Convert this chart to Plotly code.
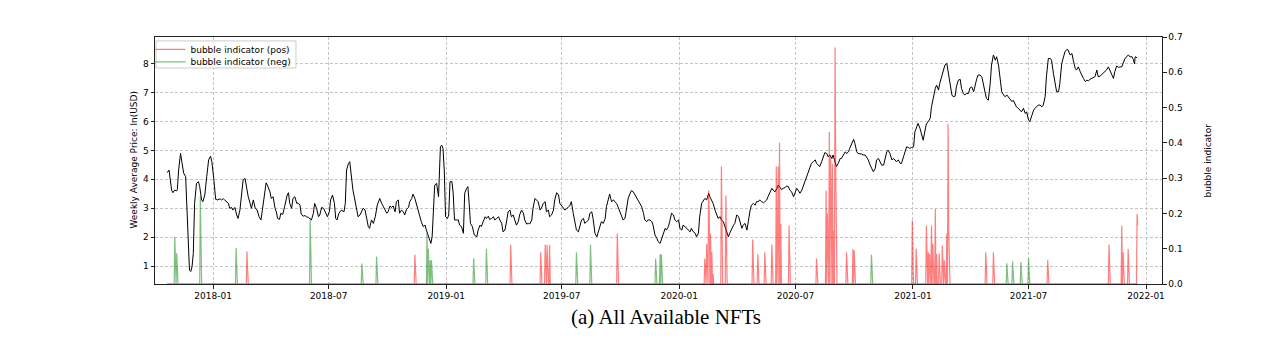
import numpy as np
import pandas as pd
import plotly.graph_objects as go

# ---------------- data (days counted from 2018-01-01) ----------------
REF_DATE = "2018-01-01"

price_days = [
    -72, -69, -68, -65, -63, -60, -57, -56, -54, -51, -49, -46, -43, -41, -39, -37, -35, -33, -31, -29,
    -26, -23, -21, -18, -16, -13, -10, -7, -4, -2, 1, 4, 7, 11, 13, 16, 18, 21, 24, 26,
    29, 31, 34, 37, 39, 42, 44, 47, 50, 52, 55, 58, 60, 63, 66, 69, 72, 75, 77, 80,
    83, 85, 89, 91, 94, 97, 99, 101, 104, 106, 109, 112, 116, 118, 120, 123, 125, 128, 131, 133,
    136, 138, 141, 144, 146, 149, 152, 154, 157, 159, 162, 165,
    167, 170, 173, 177, 179, 182, 184, 187, 190, 192, 194, 197, 201, 205, 207, 209, 212, 214, 217, 219,
    222, 225, 227, 230, 233, 235, 238, 240, 243, 245, 248, 251, 254, 257, 261, 264, 266, 269, 272, 274,
    277, 279, 282, 285, 287, 290, 292, 295, 298, 300, 303, 306, 308, 311, 313, 316, 319, 321, 324, 326,
    329, 332, 334, 337, 339, 341, 343, 345, 347, 350, 353, 354, 356, 358, 360, 362, 364, 367, 369, 371,
    374, 376, 378, 381, 384, 386, 389, 392, 394, 397, 399, 401, 403, 406, 409, 413, 415, 418, 420, 423,
    426, 428, 431, 433, 436, 439, 441, 444, 447, 449, 452, 454, 457, 460, 462, 465, 467, 470, 473, 475,
    478, 480, 483, 486, 488, 491, 494, 496, 499, 501, 504, 507, 509, 512, 514, 517, 520, 522, 525, 527,
    530, 533, 535, 538, 541, 543, 546, 548, 551, 554, 556, 559, 561, 564, 567, 569, 572, 574, 577, 580,
    582, 585, 588, 590, 593, 595, 598, 601, 603, 606, 608, 611, 614, 616, 619, 621, 624, 627, 629, 632,
    634, 637, 640, 642, 645, 648, 650, 653, 655, 658, 661, 663, 666, 668, 671, 674, 676, 679, 681,
    684, 687, 689, 692, 695, 697, 700, 702, 705, 708, 710, 713, 715, 718, 721, 723, 726, 729, 731, 734,
    736, 739, 742, 744, 747, 749, 752, 755, 757, 760, 762, 765, 768, 770, 773, 776, 778, 781, 783, 786,
    789, 791, 794, 796, 799, 802, 804, 807, 809, 812, 815, 817, 820, 823, 825, 828, 830, 833, 836, 838,
    841, 843, 846, 849, 851, 854, 856, 859, 862, 864, 867, 869, 872, 875, 877, 880, 883, 885, 888, 890,
    893, 896, 898, 901, 903, 906, 909, 911, 914, 916, 919, 922, 924, 927, 930, 932, 935, 937, 940,
    943, 945, 948, 950, 953, 956, 958, 961, 963, 966, 969, 971, 974, 976, 979, 982, 984, 987, 990, 992,
    995, 997, 1000, 1003, 1005, 1008, 1010, 1013, 1016, 1018, 1021, 1023, 1026, 1029, 1031, 1034, 1037, 1039, 1042, 1044,
    1047, 1050, 1052, 1055, 1057, 1060, 1063, 1065, 1068, 1070, 1073, 1076, 1078, 1081, 1084, 1086, 1089, 1091, 1094, 1097,
    1099, 1102, 1104, 1107, 1110, 1112, 1115, 1117, 1120, 1123, 1125, 1128, 1131, 1133, 1136, 1138, 1141, 1144, 1146, 1149,
    1151, 1154, 1157, 1159, 1162, 1164, 1167, 1170, 1172, 1175, 1177, 1180, 1183, 1185, 1188, 1191, 1193, 1196, 1198,
    1201, 1204, 1206, 1209, 1211, 1214, 1217, 1219, 1222, 1225, 1227, 1230, 1232, 1235, 1238, 1240, 1243, 1245, 1248, 1251,
    1253, 1256, 1258, 1261, 1264, 1266, 1269, 1272, 1274, 1277, 1279, 1282, 1285, 1287, 1290, 1292, 1295, 1298, 1300, 1303,
    1305, 1308, 1311, 1313, 1316, 1319, 1321, 1324, 1326, 1329, 1332, 1334, 1337, 1339, 1342, 1345, 1347, 1350, 1352, 1355,
    1358, 1360, 1363, 1366, 1368, 1371, 1373, 1376, 1379, 1381, 1384, 1386, 1389, 1392, 1394, 1397, 1399, 1402, 1405, 1407,
    1410, 1412, 1415, 1418, 1420, 1423, 1426, 1428, 1431, 1433, 1436, 1439, 1441, 1443, 1444, 1447,
]

price_vals = [
    4.23, 4.32, 4.15, 3.63, 3.54, 3.63, 3.60, 3.65, 4.32, 4.90, 4.61, 4.21, 4.09, 2.83, 1.79, 0.87, 0.82, 0.99, 1.45, 3.17,
    3.86, 3.92, 3.75, 3.29, 3.23, 3.46, 4.09, 4.67, 4.80, 4.61, 4.03, 3.31, 3.29, 3.33, 3.29, 3.33, 3.29, 3.23, 3.17, 3.00,
    3.03, 2.94, 3.03, 2.77, 2.65, 2.94, 3.40, 3.98, 4.03, 3.75, 3.40, 3.17, 3.00, 3.29, 3.00, 2.94, 2.71, 2.60, 2.94, 3.46,
    3.88, 3.80, 3.57, 3.34, 3.40, 3.00, 2.88, 2.65, 2.62, 2.83, 2.79, 3.06, 3.46, 3.54, 3.17, 3.00, 3.34, 3.40, 3.17, 3.19,
    3.11, 2.80, 2.73, 2.75, 2.71, 2.69, 2.65, 2.60, 2.83, 3.17, 3.00, 2.71,
    2.77, 3.03, 3.00, 2.77, 2.71, 2.88, 3.29, 3.46, 3.17, 2.65, 2.60, 2.83, 2.94, 2.88, 3.17, 4.32, 4.55, 4.61, 3.86, 3.63,
    3.29, 2.94, 2.71, 2.77, 2.88, 3.00, 2.94, 2.65, 2.37, 2.31, 2.60, 2.48, 2.71, 3.11, 3.34, 3.17, 3.08, 2.94, 2.83, 2.88,
    3.08, 3.03, 3.08, 2.88, 3.23, 3.29, 2.83, 2.94, 2.88, 2.77, 2.97, 3.03, 3.23, 3.34, 3.49, 3.34, 3.08, 2.88, 2.71, 2.54,
    2.37, 2.42, 2.25, 2.08, 1.91, 1.79, 2.02, 3.06, 3.80, 3.86, 3.40, 3.98, 5.13, 5.18, 5.07, 4.32, 2.71, 2.65, 2.77, 3.92,
    3.92, 3.52, 2.60, 2.60, 2.60, 2.42, 2.37, 2.14, 3.52, 3.69, 3.75, 3.17, 2.48, 2.37, 2.08, 2.02, 2.25, 2.42, 2.37, 2.54,
    2.71, 2.65, 2.73, 2.62, 2.65, 2.71, 2.60, 2.65, 2.71, 2.60, 2.48, 2.19, 2.25, 2.60, 2.88, 2.94, 2.71, 2.77, 2.60, 2.42,
    2.54, 2.77, 2.94, 2.83, 2.60, 2.46, 2.48, 2.46, 2.60, 3.00, 3.34, 3.29, 3.23, 2.94, 3.00, 3.17, 3.23, 2.88, 2.94, 2.71,
    2.77, 2.94, 3.29, 3.54, 3.46, 3.17, 3.08, 3.03, 2.94, 3.00, 3.03, 3.11, 3.23, 2.83, 2.54, 2.25, 2.19, 2.37, 2.60, 2.65,
    2.48, 2.54, 2.60, 2.83, 2.88, 2.65, 2.14, 2.02, 2.19, 2.37, 2.54, 2.48, 2.65, 3.06, 3.29, 3.49, 3.23, 3.29, 3.23, 3.17,
    3.06, 2.88, 2.71, 2.60, 2.65, 3.06, 3.34, 3.52, 3.61, 3.57, 3.46, 3.34, 3.23, 3.17, 3.06, 2.83, 2.60, 2.54, 2.60,
    2.60, 2.54, 2.42, 2.08, 1.96, 1.85, 1.79, 1.91, 2.14, 2.31, 2.25, 2.37, 2.54, 2.83, 2.77, 2.60, 2.54, 2.60, 2.31, 2.25,
    2.42, 2.37, 2.31, 2.25, 2.19, 2.31, 2.19, 2.14, 2.02, 2.14, 2.71, 3.17, 3.29, 3.34, 3.29, 3.52, 3.40, 3.29, 3.17, 2.94,
    2.77, 2.65, 2.71, 2.60, 2.54, 2.37, 2.19, 2.02, 2.14, 2.31, 2.42, 2.48, 2.77, 2.71, 2.54, 2.31, 2.42, 2.48, 2.25, 2.60,
    2.94, 3.11, 3.17, 3.11, 3.23, 3.23, 3.29, 3.23, 3.19, 3.23, 3.29, 3.40, 3.57, 3.69, 3.63, 3.57, 3.69, 3.80, 3.72, 3.65,
    3.69, 3.72, 3.77, 3.75, 3.63, 3.57, 3.40, 3.52, 3.69, 3.63, 3.52, 3.63, 3.75, 3.98, 4.09, 4.26, 4.43, 4.55, 4.61,
    4.67, 4.55, 4.49, 4.44, 4.61, 4.78, 4.92, 4.89, 4.78, 4.84, 4.72, 4.84, 4.55, 4.44, 4.55, 4.72, 4.72, 4.84, 4.95, 4.89,
    4.95, 5.07, 5.24, 5.38, 5.24, 4.95, 4.89, 4.89, 4.87, 4.84, 4.84, 4.78, 4.67, 4.49, 4.38, 4.26, 4.38, 4.67, 4.72, 4.61,
    4.49, 4.49, 4.72, 4.95, 5.01, 4.89, 4.67, 4.72, 4.67, 4.61, 4.67, 4.55, 4.55, 4.78, 4.95, 5.12, 5.10, 5.07, 5.10, 5.12,
    5.64, 5.87, 5.93, 5.76, 5.47, 5.35, 5.70, 5.91, 5.99, 6.10, 6.50, 6.85, 7.14, 7.25, 7.08, 7.31, 7.54, 7.77, 7.94, 8.00,
    7.71, 7.31, 6.91, 6.85, 6.87, 7.19, 7.42, 7.45, 7.14, 6.96, 6.91, 6.96, 6.96, 7.14, 7.19, 7.02, 7.25, 7.48, 7.60,
    7.60, 7.52, 7.31, 6.96, 6.79, 6.73, 7.31, 7.94, 8.29, 8.11, 8.23, 7.94, 7.54, 7.02, 6.91, 6.85, 6.91, 6.85, 6.79, 6.68,
    6.73, 6.62, 6.50, 6.45, 6.39, 6.33, 6.45, 6.27, 6.33, 6.05, 5.99, 6.22, 6.39, 6.45, 6.50, 6.56, 6.56, 6.50, 6.56, 6.85,
    7.54, 8.17, 8.17, 8.11, 7.65, 7.19, 7.02, 7.02, 7.31, 8.00, 8.29, 8.40, 8.48, 8.46, 8.29, 8.34, 8.11, 7.83, 7.77, 7.88,
    7.71, 7.60, 7.48, 7.37, 7.42, 7.40, 7.45, 7.48, 7.52, 7.54, 7.77, 7.54, 7.56, 7.63, 7.65, 7.71, 7.77, 7.88, 7.71, 7.65,
    7.48, 7.71, 7.91, 7.86, 7.88, 7.88, 8.06, 8.17, 8.23, 8.29, 8.23, 8.23, 8.14, 7.98, 8.23, 8.19,
]

pos_days = [53, 316, 466, 513, 520, 523, 527, 633, 770, 773, 776, 777, 779, 781, 783, 796, 803,
            845, 853, 864, 875, 882, 884, 885, 887, 889, 902, 945,
            960, 962, 965, 967, 968, 970, 972, 974, 975, 992, 1002, 1004,
            1095, 1101, 1117, 1120, 1122, 1125, 1127, 1131, 1133, 1137, 1142, 1145, 1149, 1151, 1152,
            1210, 1222, 1307, 1403, 1423, 1425, 1433, 1447, 1448]
pos_vals = [0.092, 0.083, 0.111, 0.090, 0.111, 0.111, 0.111, 0.143, 0.072, 0.114, 0.265, 0.20, 0.143, 0.09, 0.028, 0.333, 0.251,
            0.126, 0.084, 0.09, 0.112, 0.333, 0.12, 0.333, 0.40, 0.17, 0.166, 0.072,
            0.265, 0.20, 0.431, 0.36, 0.25, 0.341, 0.15, 0.67, 0.331, 0.09, 0.099, 0.095,
            0.18, 0.10, 0.166, 0.09, 0.085, 0.166, 0.114, 0.213, 0.085, 0.086, 0.109, 0.067, 0.143, 0.454, 0.15,
            0.09, 0.09, 0.068, 0.112, 0.166, 0.09, 0.099, 0.199, 0.166]

neg_days = [-60, -57, -20, 36, 152, 233, 256, 335, 337, 340, 342, 408, 428, 569, 591, 693, 700, 702,
            1031, 1243, 1252, 1265, 1277]
neg_vals = [0.133, 0.087, 0.25, 0.102, 0.185, 0.058, 0.078, 0.145, 0.10, 0.067, 0.067, 0.072, 0.10, 0.090, 0.111,
            0.072, 0.084, 0.084, 0.083, 0.059, 0.064, 0.062, 0.072]

x_tick_labels = ["2018-01", "2018-07", "2019-01", "2019-07", "2020-01", "2020-07", "2021-01", "2021-07", "2022-01"]
y_left_ticks = [1, 2, 3, 4, 5, 6, 7, 8]
y_right_ticks = [0.0, 0.1, 0.2, 0.3, 0.4, 0.5, 0.6, 0.7]

# ---------------- build series ----------------
ref = pd.Timestamp(REF_DATE)
to_date = lambda d: (ref + pd.to_timedelta(np.asarray(d, dtype=float), unit="D"))

price_x = to_date(price_days)

d_min = min(price_days + pos_days + neg_days)
d_max = max(price_days + pos_days + neg_days)
daily = np.arange(d_min, d_max + 1)
pos_series = np.zeros(len(daily))
neg_series = np.zeros(len(daily))
for d, v in zip(pos_days, pos_vals):
    pos_series[d - d_min] = v
for d, v in zip(neg_days, neg_vals):
    neg_series[d - d_min] = v
daily_x = to_date(daily)

tick_dates = [pd.Timestamp(t + "-01") for t in x_tick_labels]

RED = "rgba(255,0,0,0.5)"
GREEN = "rgba(0,128,0,0.5)"

fig = go.Figure()
fig.add_trace(go.Scatter(x=price_x, y=price_vals, mode="lines",
                         line=dict(color="black", width=1), showlegend=False, hoverinfo="skip"))
fig.add_trace(go.Scatter(x=daily_x, y=pos_series, mode="lines", yaxis="y2",
                         name="bubble indicator (pos)", legend="legend",
                         line=dict(color=RED, width=1.2)))
fig.add_trace(go.Scatter(x=daily_x, y=neg_series, mode="lines", yaxis="y2",
                         name="bubble indicator (neg)", legend="legend2",
                         line=dict(color=GREEN, width=1.2)))

axis_common = dict(
    showline=True, linecolor="#222", linewidth=1,
    ticks="outside", ticklen=3.5, tickcolor="#222", zeroline=False,
    tickfont=dict(size=9),
)
grid = dict(showgrid=True, gridcolor="#c4c4c4", gridwidth=0.8, griddash="3px,2px")

legend_common = dict(
    xanchor="left", yanchor="middle", bgcolor="rgba(0,0,0,0)", borderwidth=0,
    font=dict(size=9), itemwidth=30, tracegroupgap=0,
)

fig.update_layout(
    width=1279, height=339,
    margin=dict(l=155, r=117, t=37, b=55, pad=0),
    paper_bgcolor="white", plot_bgcolor="white",
    font=dict(family="DejaVu Sans", size=9, color="black"),
    xaxis=dict(
        range=[pd.Timestamp("2017-10-02"), pd.Timestamp("2022-01-26")],
        tickvals=tick_dates, ticktext=x_tick_labels, mirror=True,
        **grid, **axis_common,
    ),
    yaxis=dict(range=[0.39, 8.91], tickvals=y_left_ticks, **grid, **axis_common),
    yaxis2=dict(
        range=[0, 0.7], tickvals=y_right_ticks, tickformat=".1f",
        overlaying="y", side="right", showgrid=False, **axis_common,
    ),
    legend=dict(x=-0.0045, y=0.950, **legend_common),
    legend2=dict(x=-0.0045, y=0.899, **legend_common),
    showlegend=True,
)

# legend frame
fig.add_shape(type="rect", xref="paper", yref="paper",
              x0=0.0010, x1=0.1400, y0=0.8745, y1=0.9840,
              line=dict(color="#cccccc", width=1), fillcolor="rgba(255,255,255,0.85)",
              layer="above")

fig.add_annotation(text="Weekly Average Price: ln(USD)", textangle=-90,
                   x=-0.0218, y=0.5, xref="paper", yref="paper",
                   showarrow=False, font=dict(size=9), xanchor="center", yanchor="middle")
fig.add_annotation(text="bubble indicator", textangle=-90,
                   x=1.0447, y=0.5, xref="paper", yref="paper",
                   showarrow=False, font=dict(size=9), xanchor="center", yanchor="middle")
fig.add_annotation(text="(a) All Available NFTs",
                   x=0.5075, y=-0.1336, xref="paper", yref="paper",
                   showarrow=False, font=dict(family="Liberation Serif", size=21),
                   xanchor="center", yanchor="middle")

fig.write_html("out.html")
